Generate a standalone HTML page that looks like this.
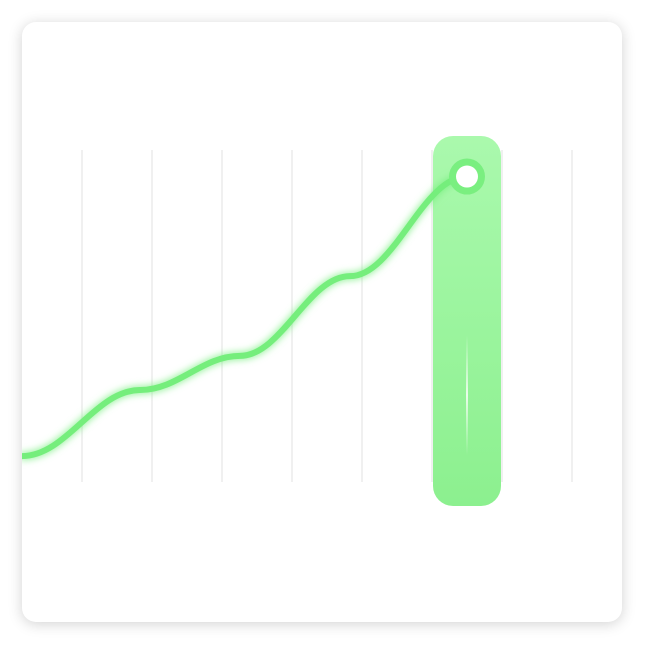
<!DOCTYPE html>
<html><head><meta charset="utf-8"><style>
html,body{margin:0;padding:0;background:#fff;width:648px;height:648px;overflow:hidden;font-family:"Liberation Sans",sans-serif}
.card{position:absolute;left:22px;top:22px;width:600px;height:600px;border-radius:14px;background:#fff;box-shadow:0 2px 14px rgba(0,0,0,0.18)}
svg{position:absolute;left:0;top:0}
</style></head><body>
<div class="card"></div>
<svg id="chart" width="648" height="648">
<defs>
<linearGradient id="barg" x1="0" y1="0" x2="0" y2="1"><stop offset="0" stop-color="#aaf9ad"/><stop offset="1" stop-color="#8cf08f"/></linearGradient>
<linearGradient id="shine" x1="0" y1="0" x2="0" y2="1"><stop offset="0" stop-color="#fff" stop-opacity="0"/><stop offset="0.5" stop-color="#fff" stop-opacity="0.8"/><stop offset="1" stop-color="#fff" stop-opacity="0"/></linearGradient>
<filter id="glow" x="-20%" y="-20%" width="140%" height="140%"><feGaussianBlur stdDeviation="4" result="b"/><feMerge><feMergeNode in="b"/><feMergeNode in="SourceGraphic"/></feMerge></filter>
<clipPath id="cardclip"><rect x="22" y="22" width="600" height="600" rx="14"/></clipPath>
</defs>
<g id="grid"></g>
<g id="hl"></g>
<g id="series" clip-path="url(#cardclip)"></g>
<g id="marker"></g>
</svg>
<script>
const xValues = [0, 118, 218, 328, 445];
const yValues = [7.8, 27.7, 38, 62, 92];
const gridTicks = [60, 130, 200, 270, 340, 410, 480, 550];
const activeIndex = 4;
const NS = "http://www.w3.org/2000/svg";
const xs = v => 22 + v;
const ys = v => 482 - v * 3.32;
const grid = document.getElementById('grid');
gridTicks.forEach(t => {
  const l = document.createElementNS(NS, 'line');
  l.setAttribute('x1', xs(t)); l.setAttribute('x2', xs(t));
  l.setAttribute('y1', 150); l.setAttribute('y2', 482);
  l.setAttribute('stroke', '#ebebeb'); l.setAttribute('stroke-width', 1.5);
  
  
  grid.appendChild(l);
});
const ax = xs(xValues[activeIndex]), ay = ys(yValues[activeIndex]);
const hl = document.getElementById('hl');
const bar = document.createElementNS(NS, 'rect');
bar.setAttribute('x', ax - 34); bar.setAttribute('y', 136); bar.setAttribute('width', 68); bar.setAttribute('height', 370); bar.setAttribute('rx', 20);
bar.setAttribute('fill', 'url(#barg)');


hl.appendChild(bar);
const sh = document.createElementNS(NS, 'rect');
sh.setAttribute('x', ax - 1); sh.setAttribute('y', 335); sh.setAttribute('width', 2); sh.setAttribute('height', 120);
sh.setAttribute('fill', 'url(#shine)');


hl.appendChild(sh);
let d = 'M' + xs(xValues[0]) + ',' + ys(yValues[0]);
for (let i = 1; i < xValues.length; i++) {
  const x0 = xs(xValues[i-1]), y0 = ys(yValues[i-1]), x1 = xs(xValues[i]), y1 = ys(yValues[i]);
  const dx = x1 - x0;
  d += ' C' + (x0 + dx * 0.38) + ',' + y0 + ' ' + (x1 - dx * 0.38) + ',' + y1 + ' ' + x1 + ',' + y1;
}
const path = document.createElementNS(NS, 'path');
path.setAttribute('d', d); path.setAttribute('fill', 'none');
path.setAttribute('stroke', '#74ee7c'); path.setAttribute('stroke-width', 6); path.setAttribute('stroke-linecap', 'round');
path.setAttribute('filter', 'url(#glow)');


document.getElementById('series').appendChild(path);
const mk = document.getElementById('marker');
const ring = document.createElementNS(NS, 'circle');
ring.setAttribute('cx', ax); ring.setAttribute('cy', ay); ring.setAttribute('r', 18); ring.setAttribute('fill', '#7aef80');


mk.appendChild(ring);
const dot = document.createElementNS(NS, 'circle');
dot.setAttribute('cx', ax); dot.setAttribute('cy', ay); dot.setAttribute('r', 11); dot.setAttribute('fill', '#fff');


mk.appendChild(dot);
</script>
</body></html>
